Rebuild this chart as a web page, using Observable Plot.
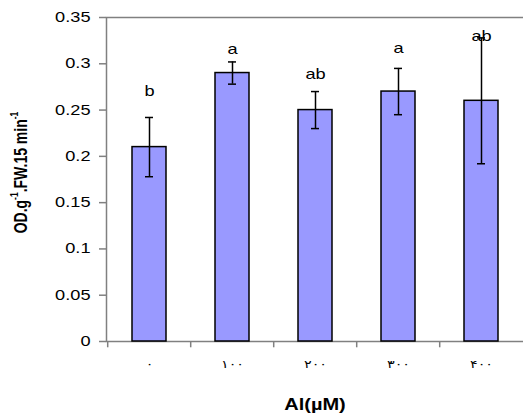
<!DOCTYPE html>
<html><head><meta charset="utf-8">
<script src="https://cdn.jsdelivr.net/npm/d3@7"></script>
<script src="https://cdn.jsdelivr.net/npm/@observablehq/plot@0.6"></script>
<style>
body{margin:0;background:#fff}
#chart svg{font-family:"Liberation Sans",Arial,sans-serif;}
g[aria-label="x-axis tick label"] text{letter-spacing:3px;font-family:"DejaVu Sans",sans-serif;}
</style></head><body><div id="chart"></div>
<script>
const categories = ["۰","۱۰۰","۲۰۰","۳۰۰","۴۰۰"];
const means = [0.21, 0.29, 0.25, 0.27, 0.26];
const errors = [0.032, 0.012, 0.02, 0.025, 0.068];
const letters = ["b","a","ab","a","ab"];
const letterY = [0.270, 0.315, 0.288, 0.317, 0.329];
const yTicks = [0, 0.05, 0.1, 0.15, 0.2, 0.25, 0.3, 0.35];
const yTickLabels = ["0","0.05","0.1","0.15","0.2","0.25","0.3","0.35"];
const xTitle = "Al(µM)";

const data = categories.map((c,i)=>({cat:c, mean:means[i], lo:means[i]-errors[i], hi:means[i]+errors[i], letter:letters[i], ly:letterY[i]}));

const W = 523, H = 416, ML = 106, MR = -1, MT = 17, MB = 75;
const step = (W - MR - ML) / categories.length;
const SX = 1.3; // horizontal stretch of the original artwork

const chart = Plot.plot({
  width: W, height: H, marginLeft: ML, marginRight: MR, marginTop: MT, marginBottom: MB,
  style: {fontFamily: '"Liberation Sans", Arial, sans-serif', fontSize: "14px", color: "#000", background: "#fff"},
  x: {domain: categories, paddingInner: 0.59, paddingOuter: 0.295, label: null},
  y: {domain: [0, 0.35], label: null},
  marks: [
    Plot.frame({stroke: "#808080", strokeWidth: 1.5}),
    Plot.barY(data, {x: "cat", y: "mean", fill: "#9999ff", stroke: "#000", strokeWidth: 1.5}),
    Plot.ruleX(data, {x: "cat", y1: "lo", y2: "hi", stroke: "#000", strokeWidth: 1.5}),
    Plot.tickY(data, {x: "cat", y: "lo", stroke: "#000", strokeWidth: 1.5, inset: 13}),
    Plot.tickY(data, {x: "cat", y: "hi", stroke: "#000", strokeWidth: 1.5, inset: 13}),
    Plot.text(data, {x: "cat", y: "ly", text: "letter", fontSize: 14, lineAnchor: "middle", fill: "#000"}),
    Plot.axisY({ticks: yTicks, tickFormat: (d) => yTickLabels[yTicks.indexOf(d)], tickSize: 7, tickPadding: 9, stroke: "#808080", strokeWidth: 1.5, fontSize: 14, label: null}),
    Plot.axisX({tickSize: 0, tickPadding: 19, fontSize: 11, label: null}),
    Plot.ruleX(categories, {x: d => d, dx: -step / 2, y1: 0, y2: -0.0068, stroke: "#808080", strokeWidth: 1.5})
  ]
});

const svg = d3.select(chart);
// stretch horizontal texts around their anchor to mimic the wide original lettering
svg.selectAll("text").each(function() {
  const t = d3.select(this);
  const tr = t.attr("transform");
  const x = +t.attr("x") || 0, y = +t.attr("y") || 0;
  const pre = tr ? tr + " " : "";
  t.attr("transform", `${pre}translate(${x},${y}) scale(${SX},1) translate(${-x},${-y})`);
});

const yt = svg.append("text")
  .attr("transform", `translate(20,172.5) rotate(-90) scale(1,${SX})`)
  .attr("text-anchor", "middle")
  .attr("dominant-baseline", "central")
  .attr("font-weight", "bold")
  .attr("font-size", 14)
  .attr("fill", "#000");
const parts = [["OD.g", false], ["-1", true], [".FW.15 min", false], ["-1", true]];
parts.forEach(([t, sup]) => {
  const ts = yt.append("tspan").text(t);
  if (sup) ts.attr("font-size", 8.5).attr("baseline-shift", 5);
});

svg.append("text")
  .attr("transform", `translate(${(ML + W - MR) / 2},410) scale(1.25,1)`)
  .attr("text-anchor", "middle")
  .attr("font-weight", "bold")
  .attr("font-size", 16)
  .attr("fill", "#000")
  .text(xTitle);

document.getElementById("chart").appendChild(chart);
</script></body></html>
